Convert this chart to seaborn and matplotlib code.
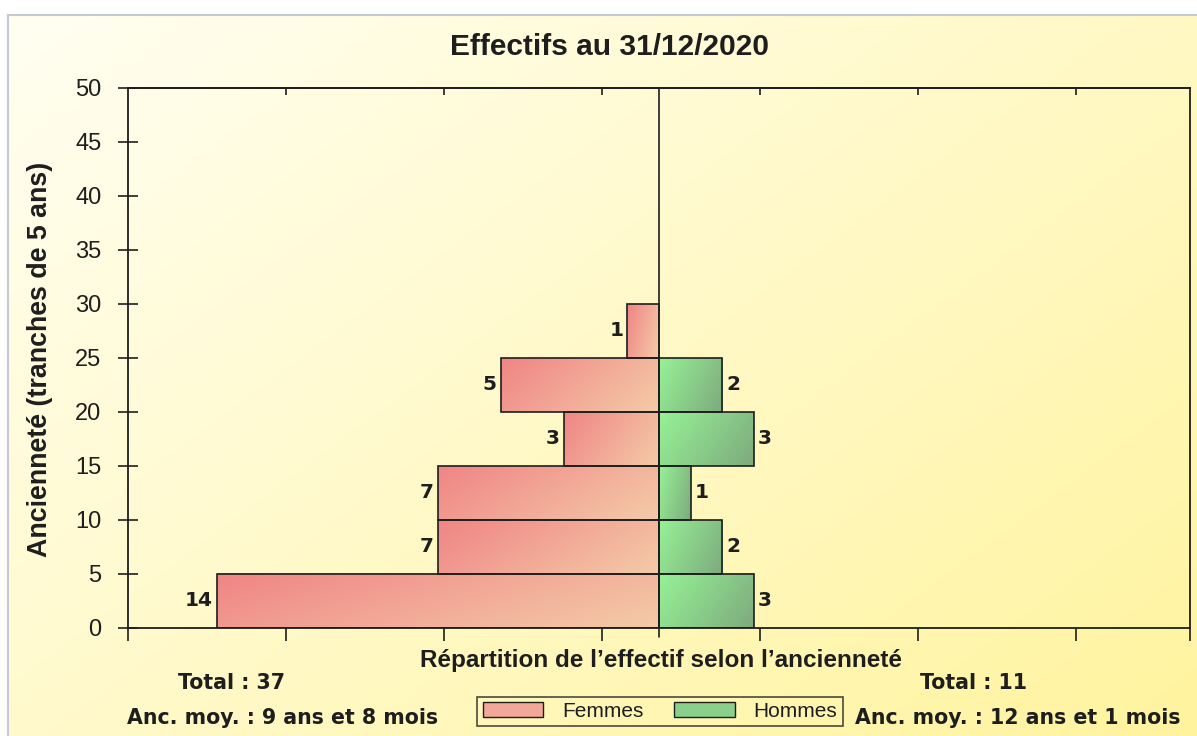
import numpy as np
import pandas as pd
import matplotlib
matplotlib.use("Agg")
import matplotlib.pyplot as plt
import seaborn as sns
from matplotlib.patches import Patch

# donnees (tranches de 5 ans d'anciennete)
tranches = [2.5, 7.5, 12.5, 17.5, 22.5, 27.5]
femmes = [14, 7, 7, 3, 5, 1]
hommes = [3, 2, 1, 3, 2, 0]
yticks = list(range(0, 55, 5))
series = ["Femmes", "Hommes"]

titre = "Effectifs au 31/12/2020"
ylabel = "Ancienneté (tranches de 5 ans)"
xlabel = "Répartition de l\u2019effectif selon l\u2019ancienneté"
total_f = "Total : 37"
total_h = "Total : 11"
moy_f = "Anc. moy. : 9 ans et 8 mois"
moy_h = "Anc. moy. : 12 ans et 1 mois"

# couleurs des degrades (haut-gauche -> bas-droite)
deg = {"Femmes": ("#F08585", "#F4CBA8"), "Hommes": ("#96F296", "#7EAA7E")}
mid = {"Femmes": "#F2A898", "Hommes": "#8ACF8A"}

sns.set_style("ticks")
plt.rcParams["font.family"] = ["Liberation Sans", "DejaVu Sans"]
ink = "#1e1e1e"

rows = [(t, -f, "Femmes") for t, f in zip(tranches, femmes) if f]
rows += [(t, h, "Hommes") for t, h in zip(tranches, hommes) if h]
df = pd.DataFrame(rows, columns=["tranche", "effectif", "sexe"])

W, H = 1197, 736
fig = plt.figure(figsize=(W / 100, H / 100), dpi=100)
fig.patch.set_facecolor("white")

# fond degrade du cadre
bg = fig.add_axes([8 / W, 0, 1 - 8 / W, 1 - 15 / H])
u = np.linspace(0, 1, 300)[None, :]
v = np.linspace(0, 1, 200)[:, None]
t = np.clip(0.55 * u + 0.45 * v, 0, 1)[..., None]
c0 = np.array([1.0, 1.0, 0.95])
c1 = np.array([1.0, 0.955, 0.62])
bg.imshow(c0 + (c1 - c0) * t, extent=(0, 1, 0, 1), aspect="auto", interpolation="bilinear")
bg.set_xlim(0, 1)
bg.set_ylim(0, 1)
bg.set_xticks([])
bg.set_yticks([])
for s in ["right", "bottom"]:
    bg.spines[s].set_visible(False)
for s in ["top", "left"]:
    bg.spines[s].set_color("#C3CAD6")
    bg.spines[s].set_linewidth(1.5)
bg.set_zorder(0)

ax = fig.add_axes([128 / W, 1 - 628 / H, (1190 - 128) / W, (628 - 88) / H])
ax.set_zorder(1)
ax.patch.set_alpha(0)

sns.barplot(data=df, x="effectif", y="tranche", hue="sexe", hue_order=series,
            orient="h", native_scale=True, dodge=False, width=1, errorbar=None,
            palette=mid, legend=False, edgecolor=ink, linewidth=1.2, ax=ax)

# degrade dans chaque barre
for cont, nom in zip(ax.containers, series):
    ca = np.array(matplotlib.colors.to_rgb(deg[nom][0]))
    cb = np.array(matplotlib.colors.to_rgb(deg[nom][1]))
    gu = np.linspace(0, 1, 80)[None, :]
    gv = np.linspace(0, 1, 40)[:, None]
    gt = (0.72 * gu + 0.28 * gv)[..., None]
    img = ca + (cb - ca) * gt
    for bar in cont:
        bb = bar.get_bbox()
        x0, x1 = sorted([bb.x0, bb.x1])
        y0, y1 = sorted([bb.y0, bb.y1])
        ax.imshow(img, extent=(x0, x1, y0, y1), aspect="auto",
                  interpolation="bilinear", zorder=1.5)
        bar.set_facecolor("none")
        bar.set_zorder(2)
    ax.bar_label(cont, labels=[f"{abs(x):g}" for x in cont.datavalues], padding=3,
                 fontsize=14.5, fontweight="bold", family="DejaVu Sans", color=ink)

xmax = 1.2 * max(femmes)
xticks = list(np.append(np.arange(-xmax, xmax, 5), xmax))
ax.set_xlim(-xmax, xmax)
ax.set_ylim(0, 50)
ax.set_xticks(xticks)
ax.set_xticklabels([])
ax.set_yticks(yticks)
ax.set_xlabel("")
ax.set_ylabel("")
ax.tick_params(axis="x", direction="out", length=9, width=1.2, color=ink)
ax.tick_params(axis="y", direction="inout", length=14, width=1.2, color=ink,
               labelsize=17, pad=12, labelcolor=ink)
for s in ax.spines.values():
    s.set_visible(True)
    s.set_linewidth(1.3)
    s.set_color(ink)

top = ax.secondary_xaxis("top")
top.set_xticks(xticks[1:-1])
top.set_xticklabels([])
top.tick_params(direction="in", length=5, width=1.2, color=ink)
top.spines["top"].set_linewidth(1.3)

ax.axvline(0, ymin=-0.016, ymax=1, color=ink, lw=1.2, clip_on=False, zorder=3)

# textes
fig.text(610 / W, 1 - 47 / H, titre, ha="center", va="center", fontsize=21.5,
         fontweight="bold", color=ink)
fig.text(40 / W, 1 - 359 / H, ylabel, ha="center", va="center", rotation=90,
         fontsize=19.3, fontweight="bold", color=ink)
fig.text(661 / W, 1 - 660 / H, xlabel, ha="center", va="center", fontsize=17.5,
         fontweight="bold", color=ink)
for x, y, s in [(231, 683, total_f), (283, 718, moy_f), (973, 683, total_h), (1018, 718, moy_h)]:
    fig.text(x / W, 1 - y / H, s, ha="center", va="center", fontsize=14.8,
             fontweight="bold", family="DejaVu Sans", color=ink)

handles = [Patch(facecolor=mid[n], edgecolor=ink, label=n) for n in series]
leg = fig.legend(handles=handles, loc="center", bbox_to_anchor=(660 / W, 1 - 711.5 / H),
                 ncol=2, frameon=True, fancybox=False, prop={"size": 15},
                 handlelength=2.9, handleheight=0.7, columnspacing=1.5,
                 borderpad=0.25, handletextpad=0.9)
leg.get_frame().set_edgecolor(ink)
leg.get_frame().set_facecolor("none")
leg.get_frame().set_linewidth(1.2)
for txt in leg.get_texts():
    txt.set_color(ink)

fig.savefig("out.png", dpi=100)
